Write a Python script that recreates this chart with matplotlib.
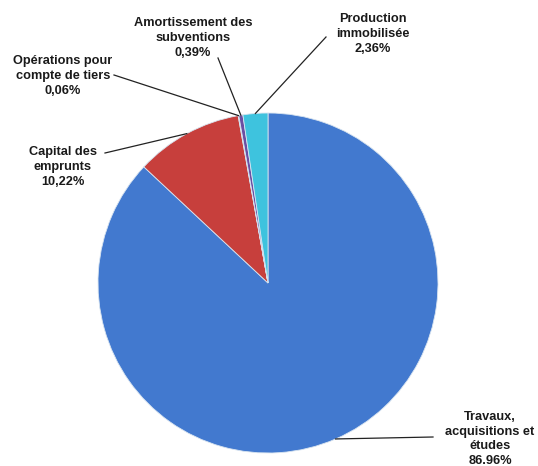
import numpy as np
import matplotlib.pyplot as plt

# -------  Data ------- #

labels = ["Travaux,\nacquisitions et\nétudes\n86.96%",
          "Capital des\nemprunts\n10,22%",
          "Opérations pour\ncompte de tiers\n0,06%",
          "Amortissement des\nsubventions\n0,39%",
          "Production\nimmobilisée\n2,36%"]
values = [86.96, 10.22, 0.06, 0.39, 2.36]
colors = ["#4279CF", "#C73F3C", "#8FB34F", "#6A4FA3", "#3EC3DE"]

# label positions (pixels) and leader line anchors
label_xy = [(490, 439), (63, 167), (63, 76), (193, 38), (373, 34)]
line_start = [(433, 437), (105, 153), (114, 75), (218, 58), (326, 37)]

# -------  Figure setup ------- #

W, H = 538, 466
cx, cy, r = 268, 283, 170

fig = plt.figure(figsize=(W / 100, H / 100), dpi=100)
ax = fig.add_axes([0, 0, 1, 1])

def px(x, y):
    return (x - cx) / r, (cy - y) / r

wedges, _ = ax.pie(values, colors=colors, startangle=90, counterclock=False,
                   radius=1, wedgeprops=dict(edgecolor="#d8e4f0", linewidth=0.6))

ax.set_xlim(-cx / r, (W - cx) / r)
ax.set_ylim((cy - H) / r, cy / r)
ax.set_aspect("equal")
ax.axis("off")

# -------  Labels with leader lines ------- #

total = sum(values)
ang = 90.0
for i, v in enumerate(values):
    mid = ang - 360 * v / total / 2
    ang -= 360 * v / total
    ex, ey = np.cos(np.radians(mid)), np.sin(np.radians(mid))
    sx, sy = px(*line_start[i])
    ax.plot([sx, ex], [sy, ey], color="#222222", lw=0.9)
    lx, ly = px(*label_xy[i])
    ax.text(lx, ly, labels[i], ha="center", va="center", fontsize=9.2,
            fontweight="bold", family="Liberation Sans", color="#1a1a1a",
            linespacing=1.3)

fig.savefig("out.png", dpi=100)
